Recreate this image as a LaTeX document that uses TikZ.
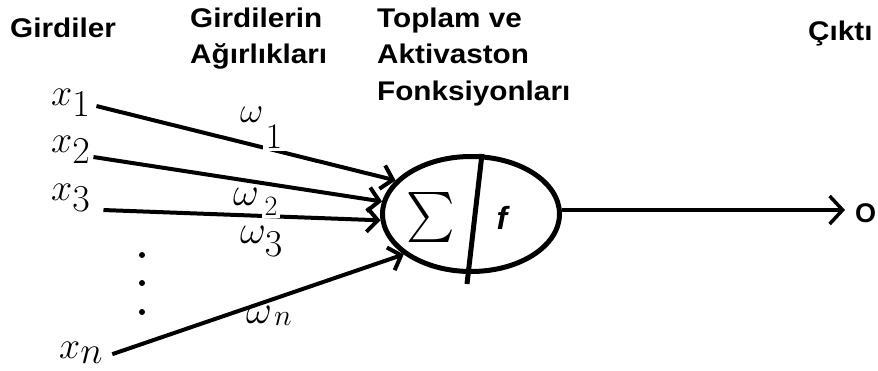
\RequirePackage{fix-cm}
\documentclass[tikz,border=0pt]{standalone}
\usepackage{fontspec}
\newfontfamily\tf{Liberation Sans}[FakeStretch=1.1]
\newfontfamily\ff{Liberation Sans}
\usetikzlibrary{arrows.meta,shapes.geometric}
\begin{document}
\begin{tikzpicture}[x=1pt,y=-1pt,
  title/.style={anchor=base west,inner sep=0pt,font=\tf\bfseries\fontsize{27}{27}\selectfont},
  inlab/.style={anchor=base west,inner sep=0pt,font=\fontsize{38}{38}\selectfont},
  wlab/.style={anchor=base west,inner sep=0pt,font=\fontsize{40}{40}\selectfont},
  wire/.style={line width=4pt,-{Straight Barb[length=11pt,width=24pt]}},
  outwire/.style={line width=3.5pt,-{Straight Barb[length=13pt,width=28pt]}}]
\path[use as bounding box] (0,0) rectangle (878,370);

% titles
\node[title] (g) at (10,37) {Girdiler};
\node[title] (wa) at (190,27) {Girdilerin};
\node[title] (wb) at (190,63) {Ağırlıkları};
\node[title] (ta) at (377,27) {Toplam ve};
\node[title] (tb) at (377,63) {Aktivaston};
\node[title] (tc) at (377,100) {Fonksiyonları};
\node[title] (c) at (808,40) {Çıktı};

% inputs
\node[inlab] (x1) at (51,105) {$x_{\textstyle 1}$};
\node[inlab] (x2) at (51,152) {$x_{\textstyle 2}$};
\node[inlab] (x3) at (51,200) {$x_{\textstyle 3}$};
\node[inlab] (xn) at (59,358) {$x_{\textstyle n}$};
\foreach \yy in {255,283,312} \fill (142,\yy) circle (3pt);

% neuron
\node[draw,ellipse,line width=5pt,minimum width=177pt,minimum height=115pt,inner sep=0pt] (neuron) at (471,214) {};
\draw[line width=5pt] ([xshift=11pt]neuron.north) -- ([xshift=-4pt,yshift=-10pt]neuron.south);
\node[inner sep=0pt] (sig) at (431,217) {\scalebox{4.6}[5.0]{$\sum$}};
\node (f) at (502,218) {\ff\bfseries\itshape\fontsize{32}{32}\selectfont f};

% weight labels
\node[wlab,font=\fontsize{36}{36}\selectfont] (w1) at (240,122) {$\omega$};
\node[wlab] (w2) at (233,205) {$\omega$};
\node[wlab] (w3) at (240,243) {$\omega$};
\node[anchor=base,inner sep=0pt,font=\fontsize{38}{38}\selectfont] (w3s) at (273.5,256) {$3$};

% connectors
\draw[wire] ([xshift=6pt,yshift=-3.5pt]x1.east) -- (neuron.156.6);
\draw[wire] ([xshift=3pt,yshift=-7.5pt]x2.east) -- (neuron.172.3);
\draw[wire] ([xshift=13pt,yshift=-12.5pt]x3.east) -- (neuron.184);
\draw[wire] ([xshift=9pt,yshift=-1.5pt]xn.east) -- (neuron.211.6);

\node[wlab] (wn) at (246,323) {$\omega$};
\node[anchor=base west,inner sep=0pt,font=\fontsize{30}{30}\selectfont] (wns) at (274,325) {$n$};
\node[anchor=base,fill=white,inner sep=2.5pt,font=\fontsize{36}{36}\selectfont] (w1s) at (274,148) {$1$};
\node[anchor=base,fill=white,inner sep=2.5pt,font=\fontsize{28}{28}\selectfont] (w2s) at (271,215) {$2$};

% output
\node[anchor=base west,inner sep=0pt,font=\ff\bfseries\fontsize{27}{27}\selectfont] (o) at (855,222) {O};
\draw[outwire,shorten >=10pt] ([yshift=4pt]neuron.east) -- ([yshift=4pt]neuron.east -| o.west);
\end{tikzpicture}
\end{document}
